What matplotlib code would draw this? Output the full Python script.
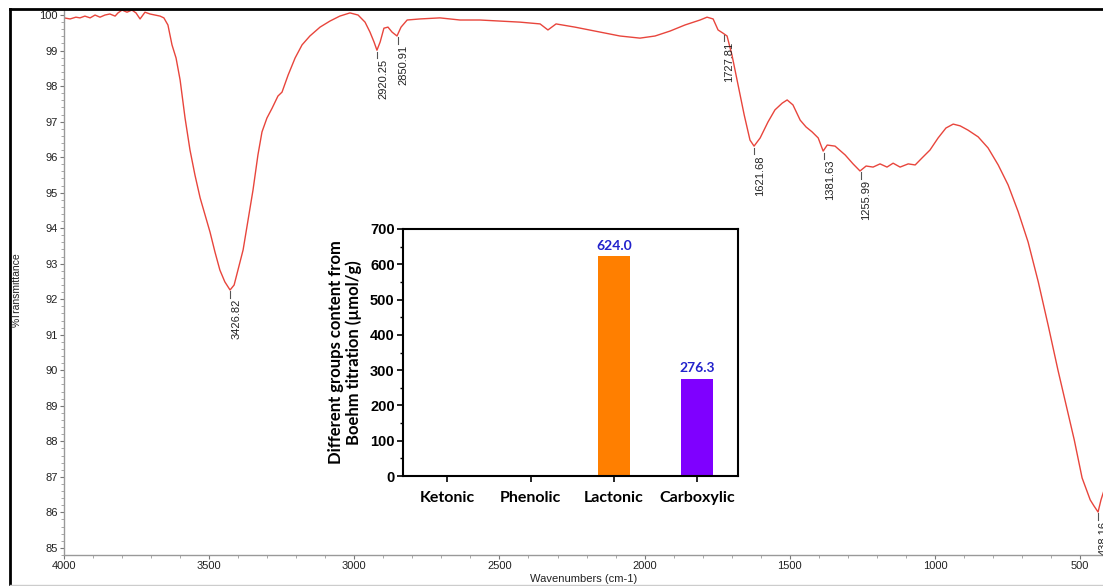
import matplotlib
matplotlib.use("Agg")
import matplotlib.pyplot as plt
from matplotlib.lines import Line2D
from matplotlib.ticker import MultipleLocator
import numpy as np

plt.rcParams["font.family"] = ["Liberation Sans", "DejaVu Sans"]

# FTIR spectrum, values
wavenumber = [4000, 3979, 3959, 3945, 3928, 3910, 3893, 3876, 3859, 3842, 3824, 3814,
              3800, 3783, 3766, 3752, 3738, 3721, 3704, 3687, 3669, 3656, 3642, 3628,
              3614, 3600, 3583, 3566, 3549, 3531, 3514, 3497, 3480, 3463, 3446, 3428,
              3414, 3401, 3383, 3366, 3349, 3332, 3318, 3301, 3283, 3263, 3249, 3228,
              3204, 3180, 3153, 3118, 3084, 3050, 3015, 2987, 2963, 2946, 2932, 2922,
              2911, 2898, 2884, 2870, 2853, 2839, 2818, 2774, 2705, 2636, 2567, 2498,
              2429, 2360, 2333, 2305, 2240, 2153, 2085, 2016, 1964, 1912, 1861, 1809,
              1785, 1764, 1747, 1730, 1716, 1699, 1678, 1657, 1637, 1623, 1602, 1575,
              1551, 1526, 1509, 1489, 1464, 1444, 1423, 1402, 1385, 1371, 1344, 1309,
              1282, 1258, 1237, 1213, 1189, 1165, 1144, 1120, 1092, 1068, 1044, 1017,
              989, 962, 937, 913, 886, 851, 817, 782, 748, 713, 679, 644,
              610, 576, 548, 520, 493, 465, 452, 438, 428, 417]
transmittance = [99.92, 99.89, 99.94, 99.92, 99.97, 99.92, 100.0, 99.94, 100.0, 100.03, 99.97, 100.06,
                 100.14, 100.08, 100.14, 100.06, 99.89, 100.08, 100.03, 100.0, 99.97, 99.92, 99.72, 99.16,
                 98.79, 98.17, 97.1, 96.2, 95.5, 94.85, 94.37, 93.89, 93.33, 92.82, 92.49, 92.26,
                 92.4, 92.82, 93.39, 94.23, 95.07, 96.06, 96.71, 97.1, 97.38, 97.72, 97.83, 98.31,
                 98.79, 99.16, 99.41, 99.66, 99.83, 99.97, 100.06, 100.0, 99.8, 99.52, 99.24, 99.01,
                 99.24, 99.63, 99.66, 99.52, 99.41, 99.66, 99.86, 99.89, 99.92, 99.86, 99.86, 99.83,
                 99.8, 99.75, 99.58, 99.75, 99.66, 99.52, 99.41, 99.35, 99.41, 99.55, 99.72, 99.86,
                 99.94, 99.89, 99.58, 99.49, 99.41, 98.87, 98.03, 97.19, 96.48, 96.31, 96.54, 96.99,
                 97.33, 97.52, 97.61, 97.47, 97.04, 96.85, 96.71, 96.54, 96.17, 96.34, 96.31, 96.06,
                 95.81, 95.61, 95.75, 95.72, 95.81, 95.72, 95.83, 95.72, 95.81, 95.78, 95.98, 96.2,
                 96.54, 96.82, 96.93, 96.88, 96.76, 96.57, 96.26, 95.78, 95.22, 94.46, 93.61, 92.49,
                 91.27, 90.0, 89.02, 88.04, 86.97, 86.35, 86.18, 86.01, 86.35, 86.63]

peak_pos = [3426.82, 2920.25, 2850.91, 1727.81, 1621.68, 1381.63, 1255.99, 438.16]
peak_val = [92.26, 99.01, 99.41, 99.49, 96.31, 96.17, 95.61, 86.01]

# Boehm titration inset
groups = ["Ketonic", "Phenolic", "Lactonic", "Carboxylic"]
content = [0, 0, 624.0, 276.3]
bar_colors = ["#FF7F00", "#FF7F00", "#FF7F00", "#7F00FF"]
shown = [False, False, True, True]

W, H = 1103, 586
fig = plt.figure(figsize=(W / 100, H / 100), dpi=100)

ax = fig.add_axes([64 / W, 1 - 555 / H, 1 - 64 / W, (555 - 9) / H])
ax.plot(wavenumber, transmittance, color="#E8453C", lw=1.0)
ax.set_xlim(4000, 421)
ax.set_ylim(84.8, 100.17)
ax.xaxis.set_major_locator(MultipleLocator(500))
ax.xaxis.set_minor_locator(MultipleLocator(100))
ax.yaxis.set_major_locator(MultipleLocator(1))
ax.yaxis.set_minor_locator(MultipleLocator(0.2))
for s in ["top", "right"]:
    ax.spines[s].set_visible(False)
for s in ["left", "bottom"]:
    ax.spines[s].set_color("#999999")
    ax.spines[s].set_linewidth(1.0)
ax.tick_params(which="major", length=3, color="#777777", labelsize=8, labelcolor="#222222", pad=1.5)
ax.tick_params(which="minor", length=2, color="#999999")
ax.set_xlabel("Wavenumbers (cm-1)", fontsize=8, color="#222222", labelpad=2)
fig.text(17 / W, 1 - 290 / H, "%Transmittance", rotation=90, fontsize=7.5,
         color="#222222", ha="center", va="center")

for p, v in zip(peak_pos, peak_val):
    ax.plot([p, p], [v - 0.04, v - 0.22], color="#555555", lw=0.8)
    ax.text(p - 3, v - 0.25, f"{p:.2f}", rotation=90, ha="left", va="top",
            fontsize=8, color="#222222", clip_on=False)

# outer frame of the screenshot
fig.add_artist(Line2D([10 / W, 1], [1 - 9 / H, 1 - 9 / H], transform=fig.transFigure, color="black", lw=2))
fig.add_artist(Line2D([10 / W, 10 / W], [1 - 9 / H, 1 - 584 / H], transform=fig.transFigure, color="black", lw=2))
fig.add_artist(Line2D([10 / W, 1], [1 - 585 / H, 1 - 585 / H], transform=fig.transFigure, color="#cccccc", lw=1))

# inset bar chart
ins = fig.add_axes([403 / W, 1 - 476 / H, (738 - 403) / W, (476 - 229) / H])
ins.set_facecolor("white")
x = np.arange(len(groups))
ins.bar(x, content, width=0.39, color=bar_colors)
for xi, v, s in zip(x, content, shown):
    if s:
        ins.text(xi, v + 12, f"{v:.1f}", ha="center", va="bottom", fontsize=10,
                 fontweight="bold", color="#2222CC", family="Lato")
ins.set_xlim(-0.53, 3.49)
ins.set_ylim(0, 700)
ins.yaxis.set_major_locator(MultipleLocator(100))
ins.yaxis.set_minor_locator(MultipleLocator(50))
ins.set_xticks(x)
ins.set_xticklabels(groups, fontsize=11.5, fontweight="bold", family="Lato")
for lab in ins.get_yticklabels():
    lab.set_fontweight("bold")
ins.tick_params(axis="y", which="major", length=4, width=1.2, labelsize=10.5, pad=2)
ins.tick_params(axis="y", which="minor", length=2.5, width=1.0)
ins.tick_params(axis="x", length=4, width=1.2, pad=7)
for s in ins.spines.values():
    s.set_linewidth(1.5)
ins.set_ylabel("Different groups content from\nBoehm titration (\u00b5mol/g)", fontsize=12,
               fontweight="bold", family="Lato", labelpad=6, linespacing=1.05)

fig.savefig("out.png", dpi=100)
